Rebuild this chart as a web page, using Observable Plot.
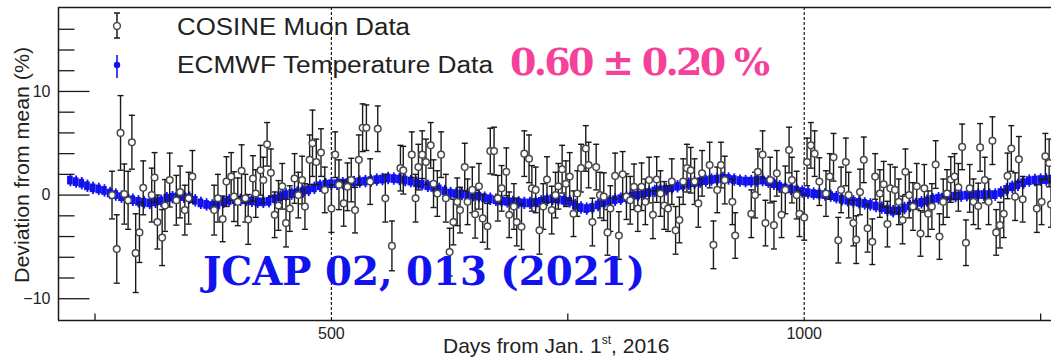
<!DOCTYPE html>
<html><head><meta charset="utf-8">
<script src="https://cdn.jsdelivr.net/npm/d3@7"></script>
<script src="https://cdn.jsdelivr.net/npm/@observablehq/plot@0.6"></script>
<style>
html,body{margin:0;padding:0;background:#fff;}
#wrap{position:relative;width:1051px;height:358px;overflow:hidden;background:#fff;}
#wrap svg{display:block;}
#overlay{position:absolute;left:0;top:0;}
</style></head><body><div id="wrap"></div>
<script>
// ---- COSINE muon data (days since 2016-01-01, deviation %, error %) ----
const muonDays = [
268,273,277,281,285,289,293,297,301,310,
313,316,321,324,329,336,340,345,349,353,
376,380,385,389,394,397,401,405,409,412,
417,420,425,428,432,436,440,444,448,452,
456,461,465,469,472,477,480,484,489,493,
500,504,508,513,517,521,525,529,533,537,
541,549,557,564,573,576,585,589,592,596,
600,605,608,612,616,621,625,629,633,636,
641,644,649,652,656,660,665,668,672,676,
680,685,688,693,696,701,704,709,712,716,
720,724,728,733,737,740,744,748,752,756,
760,764,769,772,776,780,784,788,792,795,
800,804,808,812,816,820,824,828,832,836,
840,844,848,852,856,860,864,868,872,876,
880,884,888,892,900,904,908,912,916,924,
927,944,948,951,956,959,964,968,971,976,
980,984,987,992,995,1000,1003,1007,1011,1016,
1023,1027,1031,1036,1039,1044,1047,1052,1055,1059,
1063,1067,1072,1075,1080,1084,1088,1091,1096,1100,
1104,1107,1111,1115,1119,1123,1127,1131,1135,1139,
1143,1147,1151,1155,1159,1163,1167,1171,1175,1179,
1184,1186,1191,1195,1199,1203,1207,1211,1215,1219,
1223,1227,1231,1246,1251,1255,1259,1261
];
const muonDev = [
0.0,-5.2,6.0,0.1,-0.5,5.1,-5.6,-3.6,0.7,0.0,
1.7,-2.6,-4.1,-1.0,1.45,-0.5,0.3,-1.45,-0.3,1.8,
-1.45,-0.3,-2.3,1.3,1.8,-0.15,-0.65,2.35,-0.3,-2.35,
1.6,0.15,2.4,1.45,4.9,2.15,-1.9,-1.0,0.85,-2.7,
-1.3,1.6,0,1.45,-1.1,3.4,5.0,3.2,4.1,0.5,
-1.3,3.9,1.0,-0.8,0.8,1.45,-1.45,3.4,6.5,6.5,
1.3,6.4,-0.3,-4.9,2.6,2.4,3.9,-0.3,2.7,3.9,
3.2,4.8,1.1,0.15,3.9,-0.3,-5.5,-2.6,-0.65,-1.45,
2.7,-0.65,0.5,-1.85,0.85,-2.25,-3.0,4.25,4.25,-0.3,
0.65,2.25,-1.9,-1.1,-2.6,-3.05,4.0,3.5,0.65,0.5,
-3.4,-1.1,1.5,-1.45,0,0.85,2.5,1.1,1.8,-1.8,
0.15,2.6,4.5,2.9,-2.6,2.7,0,-0.15,-3.6,-1.3,
1.85,-3.9,2.0,-0.15,-0.5,0.8,-1.3,0.8,-0.65,1.45,
-1.9,1.5,0.15,-1.0,-1.3,1.3,-3.4,-2.4,1.3,2.6,
2.4,1.3,-0.8,2.1,2.9,-4.8,0.5,2.9,1.45,-0.65,
-3.9,-1.8,0,2.25,3.9,-2.7,1.45,-2.9,2.1,-1.9,
0.5,4.35,1.45,0,-1.8,-2.15,3.2,4.8,4.0,1.3,
0.15,1.8,3.65,-4.35,0.5,3.2,0,-2.7,-4.3,0.3,
3.4,-3.2,-4.5,1.8,0.15,1.05,-2.8,0.65,0.5,-0.65,
-2.4,2.25,0,-1.1,0.85,-3.7,0.65,-1.8,-1.1,2.95,
-4.0,-0.65,0.15,1.5,1.8,0.75,4.65,-4.6,0.65,-0.65,
-1.05,4.6,1.45,-0.65,5.25,-3.6,-2.9,-1.8,1.85,4.5,
-0.15,3.45,-0.4,-1.3,-0.65,3.75,3.1,-0.9
];
const muonErr = [
2.3,3.3,3.6,2.9,2.8,2.6,3.8,2.9,2.6,2.6,
2.4,2.6,2.7,2.5,2.6,2.4,2.5,2.4,2.5,2.5,
2.4,2.3,2.2,2.4,2.3,2.4,2.3,2.5,2.3,2.4,
2.2,2.3,2.4,2.2,2.1,2.3,2.2,2.4,2.2,2.3,
2.2,2.4,2.2,2.3,2.2,2.4,3.2,2.2,2.3,2.2,
2.3,2.2,2.4,2.2,2.3,2.1,2.2,2.4,2.3,2.2,
2.2,2.2,2.3,2.4,2.2,2.3,2.2,2.3,2.2,2.3,
2.2,2.2,2.3,2.2,2.2,2.3,2.3,2.2,2.3,2.2,
2.3,2.2,2.2,2.3,2.2,2.3,2.2,2.2,2.3,2.2,
2.2,2.3,2.2,2.2,2.3,2.2,2.2,2.3,2.2,2.2,
2.3,2.2,2.2,2.3,2.2,2.2,2.3,2.2,2.3,2.2,
2.2,2.3,2.2,2.2,2.3,2.2,2.2,2.3,2.2,2.2,
2.2,2.3,2.2,2.2,2.3,2.2,2.2,2.3,2.2,2.2,
2.3,2.2,2.2,2.3,2.2,2.2,2.3,2.2,2.2,2.3,
2.2,2.2,2.3,2.2,2.2,2.3,2.2,2.2,2.3,2.2,
2.2,2.3,2.2,2.2,2.3,2.2,2.2,2.3,2.2,2.2,
2.3,2.2,2.2,2.3,2.2,2.2,2.3,2.2,2.2,2.3,
2.2,2.2,2.3,2.2,2.2,2.3,2.2,2.2,2.3,2.2,
2.2,2.3,2.2,2.2,2.3,2.2,2.2,2.3,2.2,2.2,
2.3,2.2,2.2,2.3,2.2,2.2,2.3,2.2,2.2,2.3,
2.2,2.2,2.3,2.2,2.2,2.3,2.2,2.2,2.3,2.2,
2.2,2.3,2.2,2.2,2.3,2.2,2.2,2.3,2.2,2.2,
2.3,2.2,2.2,2.3,2.2,2.2,2.3,2.2
];

// ---- ECMWF temperature prediction (days, deviation %) ----
const tempDays = [
224,230,236,242,248,254,260,266,272,278,
284,290,296,302,308,314,320,326,332,338,
344,350,356,362,368,374,380,386,392,398,
404,410,416,422,428,434,440,446,452,458,
464,470,476,482,488,494,500,506,512,518,
524,530,536,542,548,554,560,566,572,578,
584,590,596,602,608,614,620,626,632,638,
644,650,656,662,668,674,680,686,692,698,
704,710,716,722,728,734,740,746,752,758,
764,770,776,782,788,794,800,806,812,818,
824,830,836,842,848,854,860,866,872,878,
884,890,896,902,908,914,920,926,932,938,
944,950,956,962,968,974,980,986,992,998,
1004,1010,1016,1022,1028,1034,1040,1046,1052,1058,
1064,1070,1076,1082,1088,1094,1100,1106,1112,1118,
1124,1130,1136,1142,1148,1154,1160,1166,1172,1178,
1184,1190,1196,1202,1208,1214,1220,1226,1232,1238,
1244,1250,1256,1262
];
const tempDev = [
1.4,1.25,1.1,0.85,0.65,0.55,0.4,0.15,0.0,-0.2,
-0.35,-0.5,-0.65,-0.75,-0.8,-0.7,-0.6,-0.35,-0.25,-0.2,
-0.2,-0.3,-0.55,-0.8,-0.95,-1.05,-1.0,-0.7,-0.55,-0.5,
-0.5,-0.5,-0.6,-0.7,-0.7,-0.65,-0.4,-0.2,0,0.1,
0.2,0.3,0.45,0.65,0.85,1.0,1.05,1.05,1.1,1.15,
1.2,1.25,1.3,1.35,1.45,1.5,1.6,1.55,1.5,1.4,
1.3,1.15,1.0,0.85,0.7,0.55,0.35,0.15,0.1,0.05,
0,-0.05,-0.15,-0.3,-0.4,-0.5,-0.6,-0.65,-0.7,-0.75,
-0.8,-0.8,-0.75,-0.65,-0.5,-0.4,-0.45,-0.55,-0.65,-1.0,
-1.25,-1.35,-1.25,-1.0,-0.8,-0.65,-0.5,-0.4,-0.3,-0.15,
-0.05,0.1,0.2,0.35,0.45,0.5,0.65,0.8,0.9,1.05,
1.15,1.25,1.35,1.45,1.5,1.6,1.55,1.45,1.35,1.3,
1.3,1.35,1.4,1.25,1.05,0.8,0.65,0.55,0.45,0.3,
0.2,0.1,0.05,0,-0.1,-0.25,-0.45,-0.55,-0.65,-0.75,
-0.85,-0.95,-1.1,-1.25,-1.45,-1.6,-1.55,-1.3,-1.1,-0.9,
-0.75,-0.6,-0.45,-0.35,-0.25,-0.15,-0.15,-0.1,-0.05,0,
0,0,0,0,0.2,0.5,0.75,0.95,1.15,1.35,
1.4,1.45,1.45,1.5
];
const tempErr = 0.42;      // % (vertical half-size of each temperature point)
const tempHalfBin = 3;     // days

// ---- axes ----
const xDomain = [211.4, 1261.5];
const yDomain = [-12.1, 18.1];
const xTickLabels = [500, 1000];
const xTickMarks = [250, 750, 1250];
const yTickLabels = [-10, 0, 10];
const yMinorTicks = [-8, -6, -4, -2, 2, 4, 6, 8, 12, 14, 16];
const refDays = [500, 1000];

const muon = muonDays.map((d, i) => ({day: d, dev: muonDev[i], err: muonErr[i]}));
const temp = tempDays.map((d, i) => ({day: d, dev: tempDev[i]}));

const hLine = len => ({draw(ctx) { ctx.moveTo(0, 0); ctx.lineTo(len, 0); }});
const vLineUp = len => ({draw(ctx) { ctx.moveTo(0, 0); ctx.lineTo(0, -len); }});
const cap = w => ({draw(ctx) { ctx.moveTo(-w / 2, 0); ctx.lineTo(w / 2, 0); }});

const BLUE = "#1212ee";
const INK = "#1a1a1a";

const chart = Plot.plot({
  width: 1051, height: 358,
  marginLeft: 58, marginRight: 0, marginTop: 7, marginBottom: 38,
  x: {domain: xDomain},
  y: {domain: yDomain},
  style: {fontFamily: "'Liberation Sans', Arial, sans-serif", color: "#222", background: "#fff", overflow: "visible"},
  marks: [
    Plot.ruleX(refDays, {stroke: INK, strokeWidth: 1.2, strokeDasharray: "3,2"}),
    Plot.rect(temp, {x1: d => d.day - tempHalfBin, x2: d => d.day + tempHalfBin,
      y1: d => d.dev - tempErr, y2: d => d.dev + tempErr, fill: BLUE, clip: true}),
    Plot.ruleX(temp, {x: "day", y1: d => d.dev - 0.6, y2: d => d.dev + 0.6, stroke: BLUE, strokeWidth: 1.8, clip: true}),
    Plot.ruleX(muon, {x: "day", y1: d => d.dev - d.err, y2: d => d.dev + d.err, stroke: INK, strokeWidth: 1.4}),
    Plot.dot(muon, {x: "day", y: d => d.dev + d.err, symbol: cap(6), fill: "none", stroke: INK, strokeWidth: 1.4}),
    Plot.dot(muon, {x: "day", y: d => d.dev - d.err, symbol: cap(6), fill: "none", stroke: INK, strokeWidth: 1.4}),
    Plot.dot(muon, {x: "day", y: "dev", r: 3.3, fill: "#fff", stroke: "#4a4a4a", strokeWidth: 1.5}),
    // frame (left, top, bottom)
    Plot.ruleX([xDomain[0]], {stroke: INK, strokeWidth: 1.5}),
    Plot.ruleY([yDomain[0], yDomain[1]], {stroke: INK, strokeWidth: 1.5}),
    // inward ticks
    Plot.dot(yTickLabels, {y: d => d, frameAnchor: "left", symbol: hLine(31), fill: "none", stroke: INK, strokeWidth: 1.3}),
    Plot.dot(yMinorTicks, {y: d => d, frameAnchor: "left", symbol: hLine(16), fill: "none", stroke: INK, strokeWidth: 1.3}),
    Plot.dot(xTickMarks, {x: d => d, frameAnchor: "bottom", symbol: vLineUp(7), fill: "none", stroke: INK, strokeWidth: 1.3}),
    Plot.axisY({ticks: yTickLabels, tickSize: 0, tickPadding: 8, fontSize: 16, label: null}),
    Plot.axisX({ticks: xTickLabels, tickFormat: d => String(d), tickSize: 0, tickPadding: 7, fontSize: 16, label: null})
  ]
});

const wrap = document.getElementById("wrap");
wrap.appendChild(chart);

// overlay: legend, axis titles, annotations
const ns = "http://www.w3.org/2000/svg";
const ov = document.createElementNS(ns, "svg");
ov.setAttribute("id", "overlay");
ov.setAttribute("width", 1051);
ov.setAttribute("height", 358);
ov.innerHTML = `
  <g stroke="${INK}" stroke-width="1.5" fill="none">
    <line x1="117" y1="13" x2="117" y2="38"/>
    <line x1="114" y1="13" x2="120" y2="13"/>
    <line x1="114" y1="38" x2="120" y2="38"/>
  </g>
  <circle cx="117" cy="26" r="3.4" fill="#fff" stroke="#4a4a4a" stroke-width="1.5"/>
  <line x1="117" y1="55" x2="117" y2="78" stroke="${BLUE}" stroke-width="1.6"/>
  <circle cx="117" cy="65" r="3.2" fill="${BLUE}"/>
  <g font-family="'Liberation Sans', Arial, sans-serif" fill="#222">
    <text x="177" y="35" font-size="23" textLength="233" lengthAdjust="spacingAndGlyphs">COSINE Muon Data</text>
    <text x="177" y="73" font-size="23" textLength="316" lengthAdjust="spacingAndGlyphs">ECMWF Temperature Data</text>
    <text transform="translate(29,165) rotate(-90)" text-anchor="middle" font-size="21" textLength="236" lengthAdjust="spacingAndGlyphs">Deviation from mean (%)</text>
    <text x="443" y="353" font-size="21">Days from Jan. 1<tspan font-size="12" dy="-9">st</tspan><tspan dy="9">, 2016</tspan></text>
  </g>
  <text x="510" y="75" font-family="'DejaVu Serif', 'Liberation Serif', serif" font-weight="bold" font-size="38" fill="#f5419a" textLength="260" lengthAdjust="spacing">0.60 ± 0.20 %</text>
  <text x="203" y="285" font-family="'DejaVu Serif', 'Liberation Serif', serif" font-weight="bold" font-size="40" fill="${BLUE}" textLength="442" lengthAdjust="spacingAndGlyphs">JCAP 02, 013 (2021)</text>
`;
wrap.appendChild(ov);
</script></body></html>
